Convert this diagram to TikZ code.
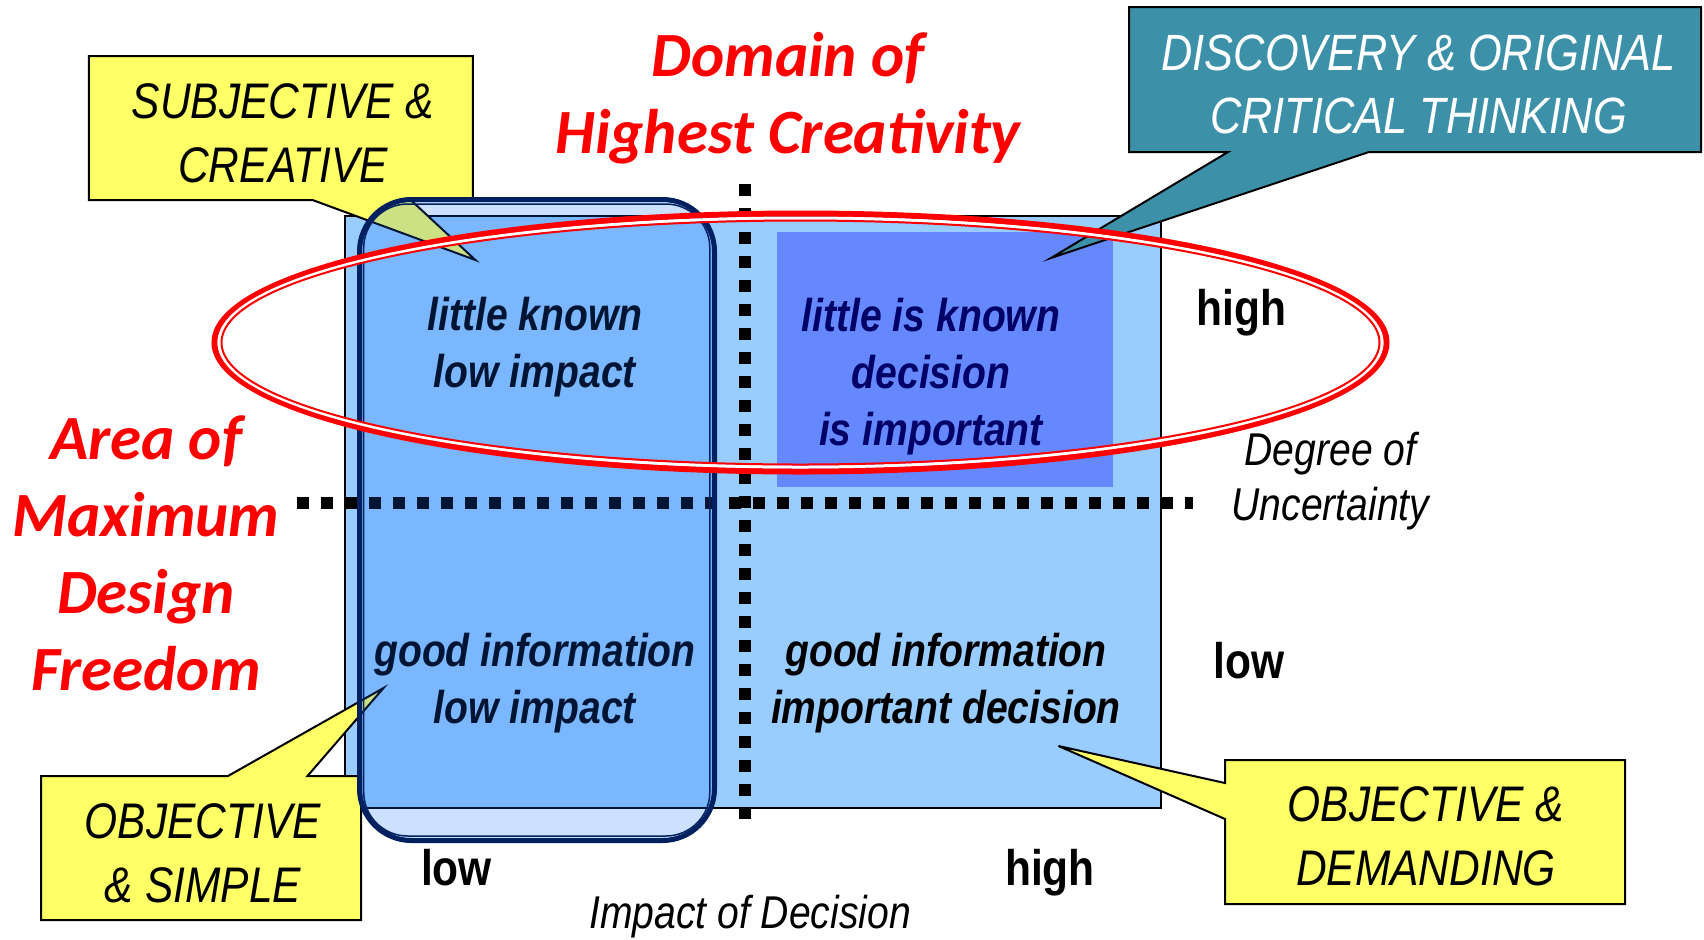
\documentclass[tikz,border=0pt]{standalone}
\usepackage{fontspec}
\setmainfont{Liberation Sans}
\newfontfamily\nar{Liberation Sans}[FakeStretch=0.85]
\newfontfamily\calib{Carlito}
\definecolor{gridblue}{HTML}{99CCFF}
\definecolor{innerblue}{HTML}{6688FF}
\definecolor{noteyellow}{HTML}{FFFF66}
\definecolor{noteteal}{HTML}{3C91A9}
\definecolor{framenavy}{HTML}{002060}
\definecolor{roundfill}{HTML}{0066FF}
\definecolor{textnavy}{HTML}{001433}
\definecolor{textdark}{HTML}{000066}
\begin{document}
\begin{tikzpicture}[x=0.5pt,y=-0.5pt,
  headline/.style={text=red, font=\calib\bfseries\itshape\fontsize{31.5}{38.5}\selectfont, align=center, anchor=base, inner sep=0pt},
  quad/.style={font=\nar\bfseries\itshape\fontsize{23}{28.5}\selectfont, align=center, anchor=base, inner sep=0pt},
  axislabel/.style={font=\nar\bfseries\fontsize{25}{30}\selectfont, anchor=base, inner sep=0pt},
  axistitle/.style={font=\nar\itshape\fontsize{23}{27.5}\selectfont, align=center, anchor=base, inner sep=0pt},
  callouttext/.style={font=\nar\itshape\fontsize{25}{32}\selectfont, align=center, anchor=base, inner sep=0pt},
  note/.style={fill=noteyellow, draw=black, line width=1pt, line join=miter},
  gridline/.style={line width=6pt, dash pattern=on 6pt off 6pt},
]
\useasboundingbox (0,0) rectangle (1704,939);
\fill[white] (0,0) rectangle (1704,939);

% quadrant field
\draw[fill=gridblue, draw=black, line width=0.8pt] (345,216) rectangle (1161,808);
\fill[innerblue] (777,232) rectangle (1113,487);

% dotted axes
\coordinate (hL) at (297,503);
\coordinate (hR) at (1193,503);
\coordinate (vT) at (745,184);
\coordinate (vB) at (745,819);
\draw[gridline] (hL) -- (hR);
\draw[gridline] (vT) -- (vB);

% callouts
\draw[note] (88.8,56) -- (472.8,56) -- (472.8,200) -- (410.7,200) -- (475.4,260) -- (312.5,200) -- (88.8,200) -- cycle;
\draw[note] (41,776) -- (228,776) -- (383.5,688) -- (307.5,776) -- (361,776) -- (361,920) -- (41,920) -- cycle;
\draw[note] (1225,760) -- (1625,760) -- (1625,904) -- (1225,904) -- (1225,819) -- (1058.5,746) -- (1225,783) -- cycle;
\draw[fill=noteteal, draw=black, line width=1pt] (1129,7) -- (1701,7) -- (1701,152) -- (1369,152) -- (1051,258) -- (1228,152) -- (1129,152) -- cycle;

% low-impact column
\draw[fill=roundfill, fill opacity=0.2, draw=framenavy, line width=2.5pt, rounded corners=26pt] (359.5,199.5) rectangle (714.5,840.5);
\draw[draw=framenavy, line width=0.75pt, rounded corners=22pt] (363.7,204) rectangle (709.8,836);

% creativity ellipse
\draw[red, line width=3pt] (800.5,342.5) ellipse [x radius=586, y radius=129];
\draw[white, line width=1.5pt] (800.5,342.5) ellipse [x radius=581.5, y radius=124.5];
\draw[red, line width=1pt] (800.5,342.5) ellipse [x radius=579, y radius=122];

% texts (anchor base = baseline of last line)
\node[headline] (domain) at (788,153) {Domain of\\Highest Creativity};
\node[headline] (area) at (146,690) {Area of\\Maximum\\Design\\Freedom};

\node[quad, text=textnavy] (tl) at (535,387) {little known\\low impact};
\node[quad, text=textdark] (tr) at (931,445) {little is known\\decision\\is important};
\node[quad, text=textnavy] (bl) at (535,723) {good information\\low impact};
\node[quad, text=black] (br) at (946,723) {good information\\important decision};

\node[axislabel] (yhigh) at (1241.5,325) {high};
\node[axislabel] (ylow) at (1249,678) {low};
\node[axislabel] (xlow) at (456.5,885) {low};
\node[axislabel] (xhigh) at (1050,885) {high};
\node[axistitle] (ytitle) at (1330.5,520) {Degree of\\Uncertainty};
\node[axistitle] (xtitle) at (750,928) {Impact of Decision};

\node[callouttext] (subjtext) at (283,182) {SUBJECTIVE \&\\CREATIVE};
\node[callouttext] (simpletext) at (203,902) {OBJECTIVE\\\& SIMPLE};
\node[callouttext] (demtext) at (1426,885) {OBJECTIVE \&\\DEMANDING};
\node[callouttext, text=white, font=\nar\itshape\fontsize{25.5}{31.5}\selectfont] (disctext) at (1418.5,133) {DISCOVERY \& ORIGINAL\\CRITICAL THINKING};
\end{tikzpicture}
\end{document}
